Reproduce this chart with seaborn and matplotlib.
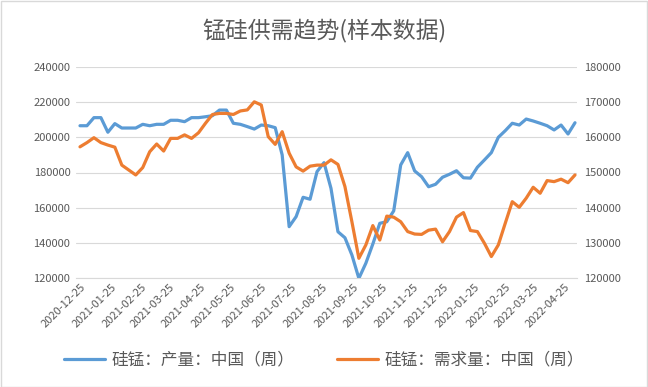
import pandas as pd
import matplotlib.pyplot as plt
import matplotlib.dates as mdates
import seaborn as sns
from matplotlib.patches import Rectangle

sns.set_theme(style="white")
plt.rcParams['font.family'] = ['Noto Sans CJK SC', 'DejaVu Sans']

# weekly data, 72 weeks starting 2020-12-25
start_date = "2020-12-25"
n_weeks = 72

# 硅锰：产量 (left axis)
chanliang = [
    206600, 206600, 211200, 211200, 202900, 207800, 205300, 205300, 205300, 207400,
    206600, 207400, 207400, 209700, 209700, 208900, 211200, 211200, 211700, 212300,
    215500, 215500, 208000, 207400, 206100, 204700, 207000, 206600, 205500, 190000,
    149200, 154900, 165900, 164800, 180500, 185600, 171000, 146300, 142900, 133100,
    119800, 128400, 139300, 151100, 152000, 158200, 184300, 191300, 180900, 177600,
    171900, 173300, 177300, 179000, 181000, 177000, 176800, 183000, 187100, 191300,
    200000, 203800, 208000, 207000, 210400, 209300, 208000, 206600, 204200, 207000,
    201900, 208300,
]

# 硅锰：需求量 (right axis)
xuqiu = [
    157300, 158500, 159900, 158500, 157800, 157200, 152100, 150700, 149300, 151400,
    155900, 158100, 156100, 159700, 159700, 160700, 159700, 161300, 164000, 166500,
    166800, 166800, 166500, 167500, 167800, 170100, 169200, 160200, 158000, 161600,
    155500, 151600, 150400, 151800, 152100, 152100, 153600, 152300, 146000, 136000,
    125600, 129400, 134900, 130800, 137600, 137300, 136000, 133200, 132500, 132400,
    133600, 133900, 130300, 133200, 137300, 138600, 133500, 133200, 129900, 126100,
    129400, 135600, 141700, 140100, 142700, 145800, 144100, 147700, 147400, 148100,
    147100, 149300,
]

label_blue = "硅锰：产量：中国（周）"
label_orange = "硅锰：需求量：中国（周）"
title = "锰硅供需趋势(样本数据)"

left_ticks = [120000, 140000, 160000, 180000, 200000, 220000, 240000]
right_ticks = [120000, 130000, 140000, 150000, 160000, 170000, 180000]

dates = pd.date_range(start_date, periods=n_weeks, freq="7D")
df = pd.DataFrame({"date": dates, "chanliang": chanliang, "xuqiu": xuqiu})
month_ticks = pd.date_range("2020-12-01", "2022-04-30", freq="MS") + pd.Timedelta(days=24)

gray = "#595959"
grid = "#d9d9d9"

fig = plt.figure(figsize=(6.48, 3.87), dpi=100)
ax = fig.add_axes([76 / 648, 1 - 278 / 387, 501 / 648, 211 / 387])
ax2 = ax.twinx()

sns.lineplot(data=df, x="date", y="chanliang", ax=ax, color="#5B9BD5", lw=2.3, label=label_blue, legend=False)
sns.lineplot(data=df, x="date", y="xuqiu", ax=ax2, color="#ED7D31", lw=2.3, label=label_orange, legend=False)

ax.set_ylim(120000, 240000)
ax2.set_ylim(120000, 180000)
ax.set_yticks(left_ticks)
ax2.set_yticks(right_ticks)
ax.set_xlim(dates[0] - pd.Timedelta(days=4), dates[-1] + pd.Timedelta(days=2))
ax.set_xticks(month_ticks)
ax.xaxis.set_major_formatter(mdates.DateFormatter("%Y-%m-%d"))
for lab in ax.get_xticklabels():
    lab.set_rotation(45)
    lab.set_ha("right")
    lab.set_rotation_mode("anchor")

ax.grid(axis="y", color=grid, lw=0.8)
ax.set_axisbelow(True)
for a in (ax, ax2):
    for s in a.spines.values():
        s.set_visible(False)
    a.set_xlabel("")
    a.set_ylabel("")
    a.tick_params(length=0, labelsize=8, colors=gray)
ax.tick_params(axis="y", pad=4)
ax2.tick_params(axis="y", pad=5)
ax.tick_params(axis="x", pad=3)
ax.spines["bottom"].set_visible(True)
ax.spines["bottom"].set_color(grid)
ax.spines["bottom"].set_linewidth(0.8)

fig.text(0.5, 1 - 31 / 387, title, ha="center", va="center", fontsize=16.5, color=gray)

h1, l1 = ax.get_legend_handles_labels()
h2, l2 = ax2.get_legend_handles_labels()
fig.legend(h1 + h2, l1 + l2, loc="center", bbox_to_anchor=(0.5, 1 - 360 / 387), ncol=2,
           frameon=False, fontsize=12, labelcolor=gray, handlelength=2.5,
           handletextpad=0.4, columnspacing=2.5)

fig.patches.append(Rectangle((0.001, 0.001), 0.997, 0.997, transform=fig.transFigure,
                             fill=False, edgecolor=grid, lw=1))

fig.savefig("out.png", dpi=100)
